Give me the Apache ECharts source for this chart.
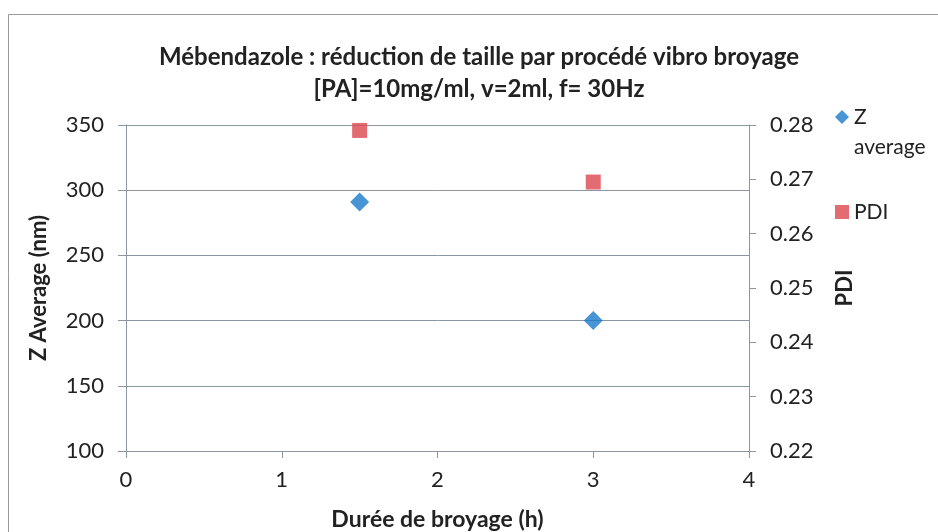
<!DOCTYPE html>
<html>
<head>
<meta charset="utf-8">
<script src="https://cdn.jsdelivr.net/npm/echarts@6/dist/echarts.min.js"></script>
<style>
  html, body { margin: 0; padding: 0; background: #fff; }
  #chart { width: 938px; height: 532px; }
</style>
</head>
<body>
<div id="chart"></div>
<script>
  // données
  const durees = [1.5, 3];
  const zAverage = [291, 200];
  const pdi = [0.279, 0.2695];

  const font = 'Lato, "Open Sans", sans-serif';
  const gris = '#8c95a3';
  const chart = echarts.init(document.getElementById('chart'));

  chart.setOption({
    animation: false,
    textStyle: { fontFamily: font },
    title: {
      text: 'Mébendazole : réduction de taille par procédé vibro broyage\n[PA]=10mg/ml, v=2ml, f= 30Hz',
      left: 474,
      textAlign: 'center',
      top: 36,
      textStyle: { fontSize: 24, fontWeight: 'bold', color: '#222', lineHeight: 32, fontFamily: font }
    },
    graphic: [{
      type: 'rect',
      shape: { x: 8.5, y: 14.5, width: 940, height: 530 },
      style: { fill: 'none', stroke: '#999', lineWidth: 1 }
    }],
    legend: {
      orient: 'vertical',
      left: 830,
      top: 67,
      itemGap: 35,
      itemWidth: 14,
      itemHeight: 14,
      formatter: name => name === 'Z average' ? ' \nZ\naverage' : name,
      textStyle: { fontSize: 21, color: '#222', lineHeight: 30, fontFamily: font },
      data: [
        { name: 'Z average', icon: 'diamond' },
        { name: 'PDI', icon: 'rect' }
      ]
    },
    grid: { left: 126, right: 189, top: 125, bottom: 81, outerBoundsMode: 'none', containLabel: false },
    xAxis: {
      type: 'value',
      min: 0, max: 4, interval: 1,
      name: 'Durée de broyage (h)',
      nameLocation: 'middle',
      nameGap: 57,
      nameTextStyle: { fontSize: 23, fontWeight: 'bold', color: '#222', fontFamily: font },
      axisLine: { show: true, lineStyle: { color: gris } },
      axisTick: { show: true, length: 7, lineStyle: { color: gris } },
      axisLabel: { fontSize: 22, color: '#222', margin: 18 },
      splitLine: { show: false }
    },
    yAxis: [
      {
        type: 'value',
        min: 100, max: 350, interval: 50,
        name: 'Z Average (nm)',
        nameLocation: 'middle',
        nameGap: 76,
        nameTextStyle: { fontSize: 22, fontWeight: 'bold', color: '#222', fontFamily: font },
        axisLine: { show: true, lineStyle: { color: gris } },
        axisTick: { show: true, length: 8, lineStyle: { color: gris } },
        axisLabel: { fontSize: 22, color: '#222', margin: 22 },
        splitLine: { show: true, lineStyle: { color: gris, width: 1 } }
      },
      {
        type: 'value',
        min: 0.22, max: 0.28, interval: 0.01,
        position: 'right',
        name: 'PDI',
        nameLocation: 'middle',
        nameGap: 85,
        nameRotate: 90,
        nameTextStyle: { fontSize: 22, fontWeight: 'bold', color: '#222', fontFamily: font },
        axisLine: { show: true, lineStyle: { color: gris } },
        axisTick: { show: true, length: 7, lineStyle: { color: gris } },
        axisLabel: { fontSize: 22, color: '#222', margin: 21, formatter: v => v.toFixed(2) },
        splitLine: { show: false }
      }
    ],
    series: [
      {
        name: 'Z average',
        type: 'scatter',
        yAxisIndex: 0,
        symbol: 'diamond',
        symbolSize: 19,
        itemStyle: { color: '#1a7acb' },
        data: durees.map((d, i) => [d, zAverage[i]])
      },
      {
        name: 'PDI',
        type: 'scatter',
        yAxisIndex: 1,
        symbol: 'rect',
        symbolSize: 15,
        itemStyle: { color: '#dc4750' },
        data: durees.map((d, i) => [d, pdi[i]])
      }
    ]
  });
</script>
</body>
</html>
